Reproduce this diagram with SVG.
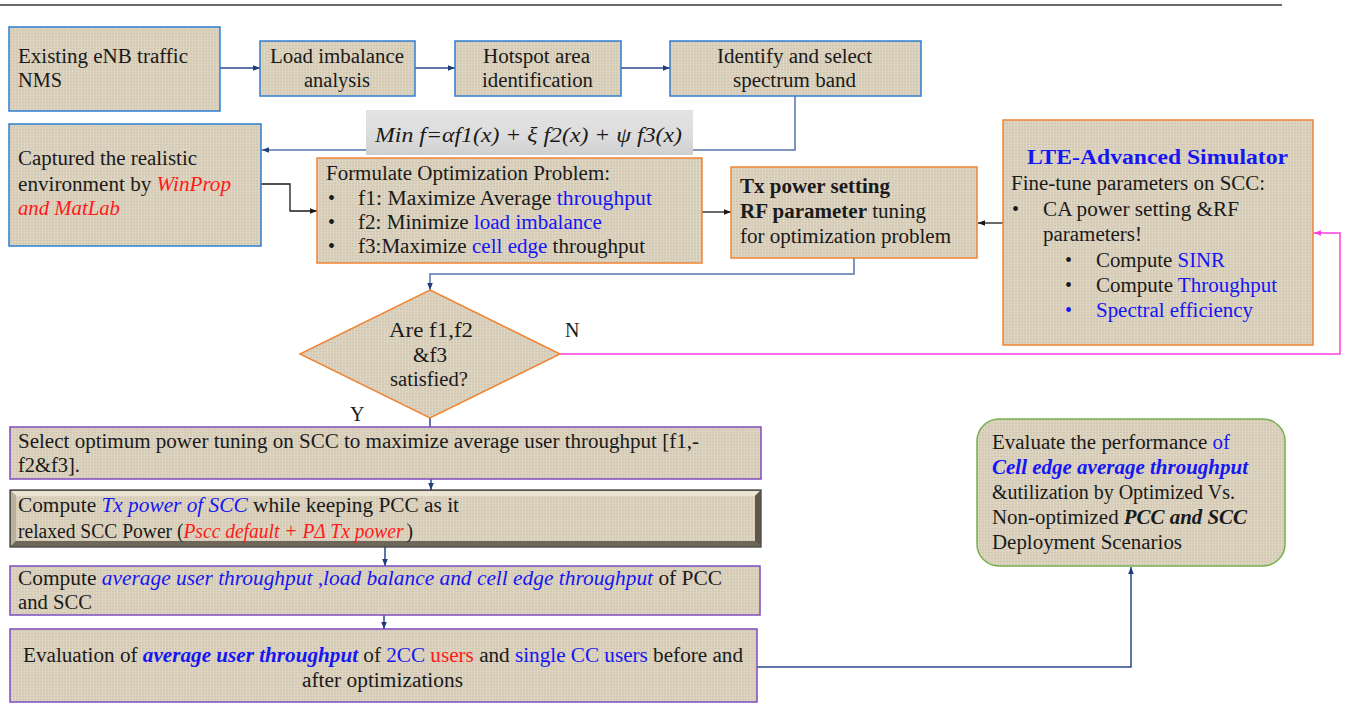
<svg xmlns="http://www.w3.org/2000/svg" width="1350" height="707" viewBox="0 0 1350 707">
  <defs>
    <!-- woven canvas fill used by every process box -->
    <pattern id="canvas" width="6" height="6" patternUnits="userSpaceOnUse">
      <rect width="6" height="6" fill="#d9cfba"/>
      <path d="M0 0.5H6M0 3.5H6" stroke="#cabea6" stroke-width="1" opacity="0.45"/>
      <path d="M0.5 0V6M3.5 0V6" stroke="#e6dfcf" stroke-width="1" opacity="0.5"/>
    </pattern>
    <linearGradient id="formulaFill" x1="0" y1="0" x2="0" y2="1">
      <stop offset="0" stop-color="#e3e3e3"/>
      <stop offset="0.6" stop-color="#dcdcdc"/>
      <stop offset="1" stop-color="#cfcfcf"/>
    </linearGradient>
    <marker id="ahNavy" viewBox="0 0 10 10" refX="10" refY="5" markerWidth="7" markerHeight="7" orient="auto" markerUnits="userSpaceOnUse">
      <path d="M0 1L10 5L0 9z" fill="#203d7a"/>
    </marker>
    <marker id="ahBlack" viewBox="0 0 10 10" refX="10" refY="5" markerWidth="7" markerHeight="7" orient="auto" markerUnits="userSpaceOnUse">
      <path d="M0 1L10 5L0 9z" fill="#1a1a1a"/>
    </marker>
    <marker id="ahPink" viewBox="0 0 10 10" refX="10" refY="5" markerWidth="7" markerHeight="7" orient="auto" markerUnits="userSpaceOnUse">
      <path d="M0 1L10 5L0 9z" fill="#ff3fe0"/>
    </marker>
  </defs>
  <style>
    text { font-family: "Liberation Serif", "Times New Roman", serif; font-size: 20px; fill: #1a1a1a; }
    .box { fill: url(#canvas); stroke-width: 1.5; }
    .blueB { stroke: #2f7fd0; }
    .orangeB { stroke: #f08433; }
    .purpleB { stroke: #7f4cc0; }
    .greenB { stroke: #76b04e; }
    .b { fill: #1616f2; }
    .r { fill: #ff1a1a; }
    .i { font-style: italic; }
    .bd { font-weight: bold; }
    .c-navy { fill: none; stroke: #2a4a88; stroke-width: 1.5; marker-end: url(#ahNavy); }
    .c-plain { fill: none; stroke: #2a4a88; stroke-width: 1.5; }
    .c-long { fill: none; stroke: #5472ad; stroke-width: 1.5; marker-end: url(#ahNavy); }
    .c-black { fill: none; stroke: #1a1a1a; stroke-width: 1.3; marker-end: url(#ahBlack); }
    .c-pink { fill: none; stroke: #ff3fe0; stroke-width: 1.5; marker-end: url(#ahPink); }
  </style>

  <rect width="1350" height="707" fill="#ffffff"/>
  <!-- page rule -->
  <line x1="0" y1="5" x2="1282" y2="5" stroke="#3a3a3a" stroke-width="1.5"/>

  <g id="connectors">
    <path class="c-navy" d="M220 68H260"/>
    <path class="c-navy" d="M415 68H455"/>
    <path class="c-navy" d="M621 68H670"/>
    <path class="c-long" d="M795 96V150H262"/>
    <path class="c-black" d="M261 184H290V211H317"/>
    <path class="c-black" d="M702 212H731"/>
    <path class="c-black" d="M1003 223H978"/>
    <path class="c-long" d="M854 258V274H430V290"/>
    <path class="c-pink" d="M560 354H1340V233H1314"/>
    <path class="c-plain" d="M430 418V427"/>
    <path class="c-navy" d="M431 479V490"/>
    <path class="c-navy" d="M385 547V566"/>
    <path class="c-navy" d="M384 615V629"/>
    <path class="c-navy" d="M757 667H1131V567"/>
  </g>

  <g id="node-existing">
    <rect class="box blueB" x="9" y="27" width="211" height="84"/>
    <text x="18" y="63" textLength="170" lengthAdjust="spacingAndGlyphs">Existing eNB traffic</text>
    <text x="18" y="87" textLength="44" lengthAdjust="spacingAndGlyphs">NMS</text>
  </g>

  <g id="node-load">
    <rect class="box blueB" x="260" y="41" width="155" height="55"/>
    <text x="270" y="63" textLength="134" lengthAdjust="spacingAndGlyphs">Load imbalance</text>
    <text x="304" y="87" textLength="66" lengthAdjust="spacingAndGlyphs">analysis</text>
  </g>

  <g id="node-hotspot">
    <rect class="box blueB" x="455" y="41" width="166" height="55"/>
    <text x="483" y="63" textLength="107" lengthAdjust="spacingAndGlyphs">Hotspot area</text>
    <text x="482" y="87" textLength="111" lengthAdjust="spacingAndGlyphs">identification</text>
  </g>

  <g id="node-spectrum">
    <rect class="box blueB" x="670" y="41" width="251" height="55"/>
    <text x="717" y="63" textLength="155" lengthAdjust="spacingAndGlyphs">Identify and select</text>
    <text x="733" y="87" textLength="123" lengthAdjust="spacingAndGlyphs">spectrum band</text>
  </g>

  <g id="node-formula">
    <rect x="366" y="110" width="327" height="45" fill="url(#formulaFill)"/>
    <text class="i" x="375" y="142" font-size="22" textLength="307" lengthAdjust="spacingAndGlyphs">Min f=αf1(x) + ξ f2(x) + ψ f3(x)</text>
  </g>

  <g id="node-captured">
    <rect class="box blueB" x="9" y="124" width="252" height="122"/>
    <text x="18" y="165" textLength="179" lengthAdjust="spacingAndGlyphs">Captured the realistic</text>
    <text x="18" y="191" textLength="213" lengthAdjust="spacingAndGlyphs">environment by <tspan class="r i">WinProp</tspan></text>
    <text class="r i" x="18" y="215" textLength="102" lengthAdjust="spacingAndGlyphs">and MatLab</text>
  </g>

  <g id="node-formulate">
    <rect class="box orangeB" x="317" y="158" width="385" height="105"/>
    <text x="326" y="180" textLength="284" lengthAdjust="spacingAndGlyphs">Formulate Optimization Problem:</text>
    <text x="328" y="205">•</text>
    <text x="328" y="229">•</text>
    <text x="328" y="253">•</text>
    <text x="358" y="205" textLength="294" lengthAdjust="spacingAndGlyphs">f1: Maximize  Average <tspan class="b">throughput</tspan></text>
    <text x="358" y="229" textLength="244" lengthAdjust="spacingAndGlyphs">f2: Minimize <tspan class="b">load imbalance</tspan></text>
    <text x="358" y="253" textLength="287" lengthAdjust="spacingAndGlyphs">f3:Maximize <tspan class="b">cell edge</tspan> throughput</text>
  </g>

  <g id="node-txpower">
    <rect class="box orangeB" x="731" y="167" width="246" height="91"/>
    <text class="bd" x="740" y="193" textLength="150" lengthAdjust="spacingAndGlyphs">Tx power setting</text>
    <text x="740" y="218" textLength="186" lengthAdjust="spacingAndGlyphs"><tspan class="bd">RF parameter</tspan> tuning</text>
    <text x="740" y="243" textLength="211" lengthAdjust="spacingAndGlyphs">for optimization problem</text>
  </g>

  <g id="node-simulator">
    <rect class="box orangeB" x="1003" y="120" width="310" height="225"/>
    <text class="b bd" x="1027" y="164" font-size="22" textLength="261" lengthAdjust="spacingAndGlyphs">LTE-Advanced Simulator</text>
    <text x="1011" y="190" textLength="254" lengthAdjust="spacingAndGlyphs">Fine-tune parameters on SCC:</text>
    <text x="1012" y="216">•</text>
    <text x="1043" y="216" textLength="196" lengthAdjust="spacingAndGlyphs">CA power setting &amp;RF</text>
    <text x="1043" y="241" textLength="99" lengthAdjust="spacingAndGlyphs">parameters!</text>
    <text x="1065" y="267">•</text>
    <text x="1096" y="267" textLength="129" lengthAdjust="spacingAndGlyphs">Compute <tspan class="b">SINR</tspan></text>
    <text x="1065" y="292">•</text>
    <text x="1096" y="292" textLength="181" lengthAdjust="spacingAndGlyphs">Compute <tspan class="b">Throughput</tspan></text>
    <text class="b" x="1065" y="317">•</text>
    <text class="b" x="1096" y="317" textLength="157" lengthAdjust="spacingAndGlyphs">Spectral efficiency</text>
  </g>

  <g id="node-decision">
    <polygon class="box orangeB" points="430,290 560,354 430,418 300,354"/>
    <text x="389" y="337" textLength="84" lengthAdjust="spacingAndGlyphs">Are  f1,f2</text>
    <text x="413" y="362" textLength="34" lengthAdjust="spacingAndGlyphs">&amp;f3</text>
    <text x="390" y="386" textLength="78" lengthAdjust="spacingAndGlyphs">satisfied?</text>
    <text x="565" y="337">N</text>
    <text x="350" y="421">Y</text>
  </g>

  <g id="node-select">
    <rect class="box purpleB" x="10" y="427" width="751" height="52"/>
    <text x="18" y="448" textLength="681" lengthAdjust="spacingAndGlyphs">Select optimum power tuning on SCC to maximize average user throughput [f1,-</text>
    <text x="18" y="472" textLength="62" lengthAdjust="spacingAndGlyphs">f2&amp;f3].</text>
  </g>

  <g id="node-compute-tx">
    <rect x="10" y="490" width="751" height="57" fill="#8a8273" stroke="#333" stroke-width="1.2"/>
    <!-- bevelled frame: light top/left, dark bottom/right -->
    <polygon points="11,491 760,491 755,496 16,496" fill="#ece5d3"/>
    <polygon points="11,491 16,496 16,541 11,546" fill="#b9b09e"/>
    <polygon points="760,491 760,546 755,541 755,496" fill="#5d5649"/>
    <polygon points="11,546 760,546 755,541 16,541" fill="#6e6658"/>
    <rect x="16" y="496" width="739" height="45" fill="url(#canvas)"/>
    <text x="18" y="512" textLength="441" lengthAdjust="spacingAndGlyphs">Compute  <tspan class="b i">Tx power of SCC</tspan> while keeping PCC as it</text>
    <text x="18" y="538" font-size="17" textLength="395" lengthAdjust="spacingAndGlyphs">relaxed SCC Power (<tspan class="r i">Pscc default + PΔ Tx power</tspan><tspan dx="3">)</tspan></text>
  </g>

  <g id="node-compute-avg">
    <rect class="box purpleB" x="10" y="566" width="750" height="49"/>
    <text x="18" y="585" textLength="704" lengthAdjust="spacingAndGlyphs">Compute <tspan class="b i">average user throughput  ,load balance and cell edge throughput</tspan> of  PCC</text>
    <text x="18" y="609" textLength="74" lengthAdjust="spacingAndGlyphs">and SCC</text>
  </g>

  <g id="node-evaluation">
    <rect class="box purpleB" x="10" y="629" width="747" height="73"/>
    <text x="23" y="662" textLength="720" lengthAdjust="spacingAndGlyphs">Evaluation of  <tspan class="b i bd">average user throughput</tspan> of <tspan class="b">2CC</tspan> <tspan class="r">users</tspan> and <tspan class="b">single CC users</tspan> before and</text>
    <text x="302" y="687" textLength="161" lengthAdjust="spacingAndGlyphs">after  optimizations</text>
  </g>

  <g id="node-performance">
    <rect class="box greenB" x="977" y="419" width="308" height="147" rx="22" ry="22"/>
    <text x="992" y="449" textLength="238" lengthAdjust="spacingAndGlyphs">Evaluate the performance <tspan class="b">of</tspan></text>
    <text class="b i bd" x="992" y="474" textLength="256" lengthAdjust="spacingAndGlyphs">Cell edge average throughput</text>
    <text x="992" y="499" textLength="243" lengthAdjust="spacingAndGlyphs">&amp;utilization by Optimized Vs.</text>
    <text x="992" y="524" textLength="255" lengthAdjust="spacingAndGlyphs">Non-optimized <tspan class="i bd">PCC and SCC</tspan></text>
    <text x="992" y="549" textLength="190" lengthAdjust="spacingAndGlyphs">Deployment Scenarios</text>
  </g>
</svg>
